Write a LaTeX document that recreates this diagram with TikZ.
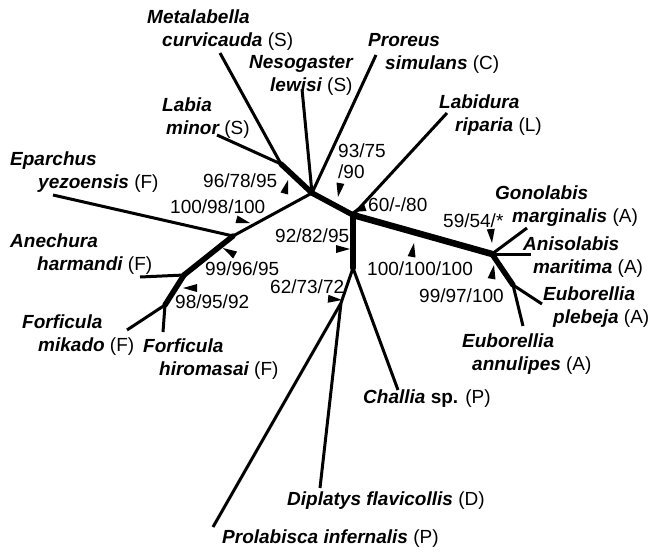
\documentclass[tikz,border=0pt]{standalone}
\usepackage{fontspec}
\setmainfont{Liberation Sans}
\newcommand{\grp}[1]{\mdseries\upshape (#1)}
\begin{document}
\begin{tikzpicture}[x=1pt,y=-1pt]
	\tikzstyle{branch} = [line width=3pt]
	\tikzstyle{stem} = [line width=5.5pt, line cap=round]
	\tikzstyle{taxon} = [anchor=base west, inner sep=0pt, align=left, font=\fontsize{19}{23}\selectfont\bfseries\itshape]
	\tikzstyle{boot} = [anchor=base west, inner sep=0pt, align=left, font=\fontsize{19}{21}\selectfont]
	\tikzset{tri/.pic={\fill (0,0) -- (-14,4) -- (-14,-4) -- cycle;}}
	\useasboundingbox (0,0) rectangle (649,555);
	
	% inner nodes of the tree
	\coordinate (A) at (312,193);
	\coordinate (B) at (281,164);
	\coordinate (C) at (353,215);
	\coordinate (D) at (492,254);
	\coordinate (E) at (353,268);
	\coordinate (F) at (513,285);
	\coordinate (G) at (341,303);
	\coordinate (H) at (233,236);
	\coordinate (I) at (184,275);
	\coordinate (J) at (165,305);
	
	% tips
	\coordinate (metaE) at (220,53);
	\coordinate (labiaE) at (217,135);
	\coordinate (nesoE) at (302,89);
	\coordinate (proE) at (376,55);
	\coordinate (labiE) at (447,113);
	\coordinate (epaE) at (53,195);
	\coordinate (aneE) at (140,277);
	\coordinate (mikE) at (127,330);
	\coordinate (hiroE) at (163,332);
	\coordinate (gonE) at (527,228);
	\coordinate (aniE) at (531,254);
	\coordinate (pleE) at (542,304);
	\coordinate (annE) at (523,326);
	\coordinate (chaE) at (398,390);
	\coordinate (dipE) at (320,488);
	\coordinate (prolE) at (213,527);
	
	\draw [branch] (B) -- (metaE);
	\draw [branch] (B) -- (labiaE);
	\draw [branch] (A) -- (nesoE);
	\draw [branch] (A) -- (proE);
	\draw [branch] (C) -- (labiE);
	\draw [branch] (A) -- (H);
	\draw [branch] (H) -- (epaE);
	\draw [branch] (I) -- (aneE);
	\draw [branch] (J) -- (mikE);
	\draw [branch] (J) -- (hiroE);
	\draw [branch] (D) -- (gonE);
	\draw [branch] (D) -- (aniE);
	\draw [branch] (F) -- (pleE);
	\draw [branch] (F) -- (annE);
	\draw [branch] (E) -- (chaE);
	\draw [branch] (E) -- (G);
	\draw [branch] (G) -- (dipE);
	\draw [branch] (G) -- (prolE);
	
	\draw [stem] (B) -- (A);
	\draw [stem] (A) -- (C);
	\draw [stem] (C) -- (E);
	\draw [stem, line width=6.5pt] (C) -- (D);
	\draw [stem] (D) -- (F);
	\draw [stem] (H) -- (I);
	\draw [stem] (I) -- (J);
	
	% taxa (anchor on the baseline of the last line)
	\node (meta) [taxon] at (147,46) {Metalabella\\\hspace*{15pt}curvicauda \grp{S}};
	\node (neso) [taxon] at (249,91) {Nesogaster\\\hspace*{21pt}lewisi \grp{S}};
	\node (pro) [taxon] at (368,69) {Proreus\\\hspace*{17pt}simulans \grp{C}};
	\node (labi) [taxon] at (439,131) {Labidura\\\hspace*{16pt}riparia \grp{L}};
	\node (labia) [taxon] at (162,134) {Labia\\\hspace*{4pt}minor \grp{S}};
	\node (epa) [taxon] at (10,188) {Eparchus\\\hspace*{28pt}yezoensis \grp{F}};
	\node (ane) [taxon] at (10,270) {Anechura\\\hspace*{27pt}harmandi \grp{F}};
	\node (mik) [taxon] at (22,351) {Forficula\\\hspace*{16pt}mikado \grp{F}};
	\node (hiro) [taxon] at (143,375) {Forficula\\\hspace*{16pt}hiromasai \grp{F}};
	\node (gon) [taxon] at (495,222) {Gonolabis\\\hspace*{17pt}marginalis \grp{A}};
	\node (ani) [taxon] at (523,273) {Anisolabis\\\hspace*{10pt}maritima \grp{A}};
	\node (ple) [taxon] at (543,323) {Euborellia\\\hspace*{10pt}plebeja \grp{A}};
	\node (ann) [taxon] at (462,370) {Euborellia\\\hspace*{10pt}annulipes \grp{A}};
	\node (cha) [taxon] at (363,403) {Challia {\upshape sp.} \grp{P}};
	\node (dip) [taxon] at (287,505) {Diplatys flavicollis \grp{D}};
	\node (prol) [taxon] at (222,543) {Prolabisca infernalis \grp{P}};
	
	% support values
	\node (s1) [boot] at (203,187) {96/78/95};
	\node (s2) [boot] at (170,213) {100/98/100};
	\node (s3) [boot] at (338,178) {93/75\\/90};
	\node (s4) [boot] at (368,211) {60/-/80};
	\node (s5) [boot] at (275,242) {92/82/95};
	\node (s6) [boot] at (205,275) {99/96/95};
	\node (s7) [boot] at (270,293) {62/73/72};
	\node (s8) [boot] at (175,308) {98/95/92};
	\node (s9) [boot] at (367,275) {100/100/100};
	\node (s10) [boot] at (443,227) {59/54/*};
	\node (s11) [boot] at (419,302) {99/97/100};
	
	\pic [rotate=75] at (288,180) {tri};
	\pic [rotate=-15] at (250,223) {tri};
	\pic [rotate=-100] at (338,197) {tri};
	\pic [rotate=200] at (352,212) {tri};
	\pic [rotate=0] at (350,249) {tri};
	\pic [rotate=-5] at (342,300) {tri};
	\pic [rotate=80] at (414,243) {tri};
	\pic [rotate=-85] at (492,243) {tri};
	\pic [rotate=80] at (494,265) {tri};
	\pic [rotate=150] at (223,248) {tri};
	\pic [rotate=180] at (183,288) {tri};
\end{tikzpicture}
\end{document}
